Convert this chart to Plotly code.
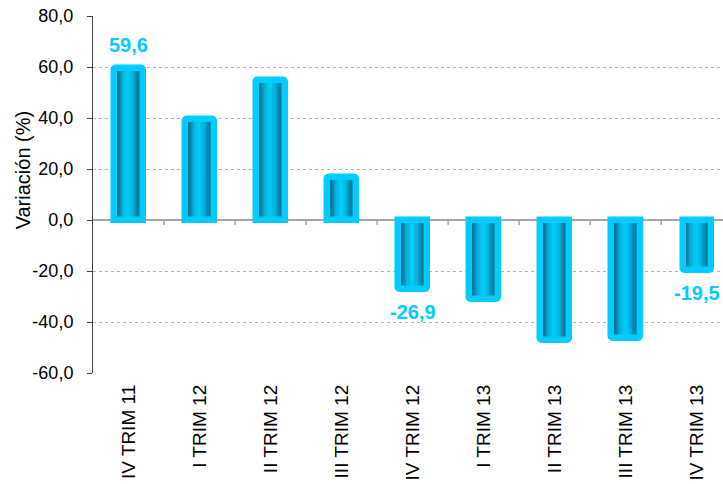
import plotly.graph_objects as go

# Quarterly variation (%)
categories = ["IV TRIM 11", "I TRIM 12", "II TRIM 12", "III TRIM 12", "IV TRIM 12",
              "I TRIM 13", "II TRIM 13", "III TRIM 13", "IV TRIM 13"]
values = [59.6, 39.7, 55.0, 16.7, -26.9, -31.0, -46.9, -46.2, -19.5]
labelled = [0, 4, 8]
y_ticks = [-60, -40, -20, 0, 20, 40, 60, 80]
y_tick_labels = ["-60,0", "-40,0", "-20,0", "0,0", "20,0", "40,0", "60,0", "80,0"]
y_title = "Variación (%)"

BAR_W = 0.40
CYAN = "#00ccff"
FONT = "Liberation Sans, Arial, sans-serif"

# horizontal shading across the bar body (position across bar -> colour)
shade_stops = [
    (0.00, (5, 100, 130)), (0.12, (6, 108, 142)), (0.28, (10, 164, 204)),
    (0.42, (0, 200, 242)), (0.52, (0, 204, 244)), (0.68, (0, 176, 220)),
    (0.82, (10, 132, 168)), (0.90, (6, 106, 138)), (1.00, (5, 100, 130)),
]


def shade(t):
    for (t0, c0), (t1, c1) in zip(shade_stops, shade_stops[1:]):
        if t0 <= t <= t1:
            f = (t - t0) / (t1 - t0)
            return "rgb(%d,%d,%d)" % tuple(round(a + (b - a) * f) for a, b in zip(c0, c1))
    return "rgb(%d,%d,%d)" % shade_stops[-1][1]


fig = go.Figure()

n_strips = 24
strip_w = BAR_W / n_strips
for i in range(n_strips):
    fig.add_trace(go.Bar(
        x=categories, y=values,
        width=strip_w * 1.08, offset=-BAR_W / 2 + i * strip_w,
        marker=dict(color=shade((i + 0.5) / n_strips), line=dict(width=0)),
        hoverinfo="skip", showlegend=False,
    ))

# cyan frame around each bar
fig.add_trace(go.Bar(
    x=categories, y=values, width=BAR_W,
    marker=dict(color="rgba(0,0,0,0)", line=dict(color=CYAN, width=6.5), cornerradius=2),
    showlegend=False,
))

# value labels
for i in labelled:
    v = values[i]
    fig.add_annotation(
        x=categories[i], y=v, text=f"{v:.1f}".replace(".", ","),
        showarrow=False, yshift=23.5 if v > 0 else -23.5,
        font=dict(family=FONT, size=20, color=CYAN, weight="bold"),
    )

# y-axis title, set a little above the middle of the axis
fig.add_annotation(
    xref="paper", yref="paper", x=0, y=0.569, xshift=-70.5,
    xanchor="center", yanchor="middle", textangle=-90,
    text=y_title, showarrow=False,
    font=dict(family=FONT, size=20, color="#000000"),
)

# small category separators on the zero line
for k in range(len(categories) - 1):
    fig.add_shape(
        type="line", xref="x", yref="y", x0=k + 0.5, x1=k + 0.5,
        ysizemode="pixel", yanchor=0, y0=0, y1=-5,
        line=dict(color="#a6a6a6", width=1.5), layer="below",
    )

fig.update_layout(
    width=723, height=484,
    margin=dict(l=93, r=0, t=16, b=111),
    barmode="overlay", bargap=0,
    plot_bgcolor="white", paper_bgcolor="white",
    font=dict(family=FONT, size=17, color="#000000"),
    xaxis=dict(
        type="category", range=[-0.5, 8.37],
        showgrid=False, showline=False, ticks="",
        tickangle=-90, tickfont=dict(size=19),
        ticklabelstandoff=7,
    ),
    yaxis=dict(
        range=[-60, 80], tickvals=y_ticks, ticktext=y_tick_labels,
        showgrid=True, gridcolor="#b4b4b4", griddash="dot", gridwidth=1,
        zeroline=True, zerolinecolor="#a6a6a6", zerolinewidth=1.5,
        showline=True, linecolor="#404040", linewidth=1,
        ticks="outside", ticklen=5, tickcolor="#404040",
        ticklabelstandoff=10,
        tickfont=dict(size=18),
    ),
)

fig.write_html("out.html")
